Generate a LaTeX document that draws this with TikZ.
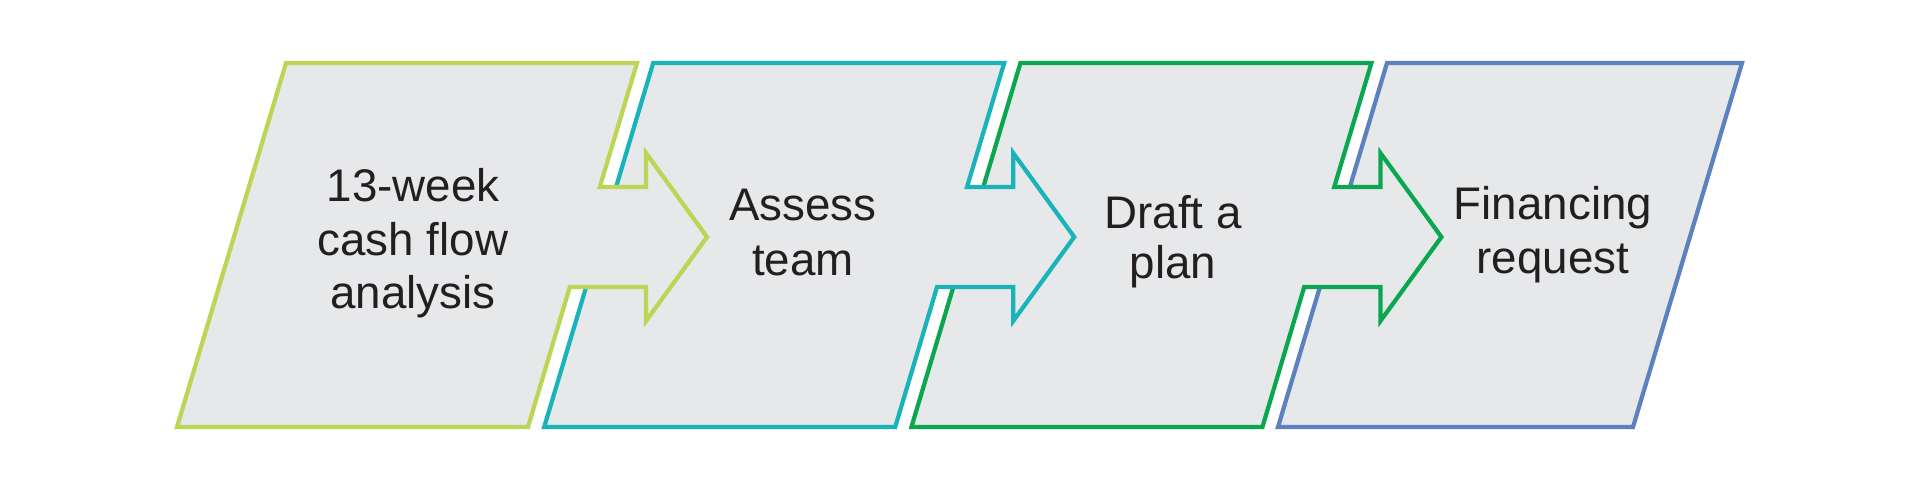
\documentclass[tikz,border=0pt]{standalone}
\usepackage{fontspec}
\setmainfont{Liberation Sans}
\definecolor{cLime}{RGB}{188,213,85}
\definecolor{cTeal}{RGB}{24,180,186}
\definecolor{cGreen}{RGB}{10,166,80}
\definecolor{cBlue}{RGB}{92,129,192}
\definecolor{boxfill}{RGB}{231,232,234}
\definecolor{txt}{RGB}{35,31,32}
\tikzset{
  stage/.style={fill=boxfill, line width=1.2pt, line join=miter},
  lbl/.style={inner sep=0pt, anchor=base, text=txt, font=\fontsize{13}{15}\selectfont},
}
\newcommand\arrowstage[2]{%
  \begin{scope}[xshift=#1cm]
    \draw[stage, draw=#2] (286,63) -- (637,63) -- (599.8,187) -- (646,187) -- (646,153)
      -- (707,237) -- (646,321) -- (646,287) -- (569.8,287) -- (528,427) -- (177,427) -- cycle;
  \end{scope}}
\begin{document}
\begin{tikzpicture}[x=0.01cm,y=-0.01cm]
  \fill[white] (0,0) rectangle (1920,500);
  \useasboundingbox (0,0) rectangle (1920,500);
  % last stage (no arrow)
  \draw[stage, draw=cBlue] (1387,63) -- (1742,63) -- (1633,427) -- (1278,427) -- cycle;
  \arrowstage{7.34}{cGreen}
  \arrowstage{3.67}{cTeal}
  \arrowstage{0}{cLime}
  % labels
  \node[lbl] (t1a) at (413,202) {13-week};
  \node[lbl] (t1b) at (413,255) {cash flow};
  \node[lbl] (t1c) at (413,308) {analysis};
  \node[lbl] (t2a) at (803,220) {Assess};
  \node[lbl] (t2b) at (803,275) {team};
  \node[lbl] (t3a) at (1173,228) {Draft a};
  \node[lbl] (t3b) at (1173,278) {plan};
  \node[lbl] (t4a) at (1553,219) {Financing};
  \node[lbl] (t4b) at (1553,273) {request};
\end{tikzpicture}
\end{document}
